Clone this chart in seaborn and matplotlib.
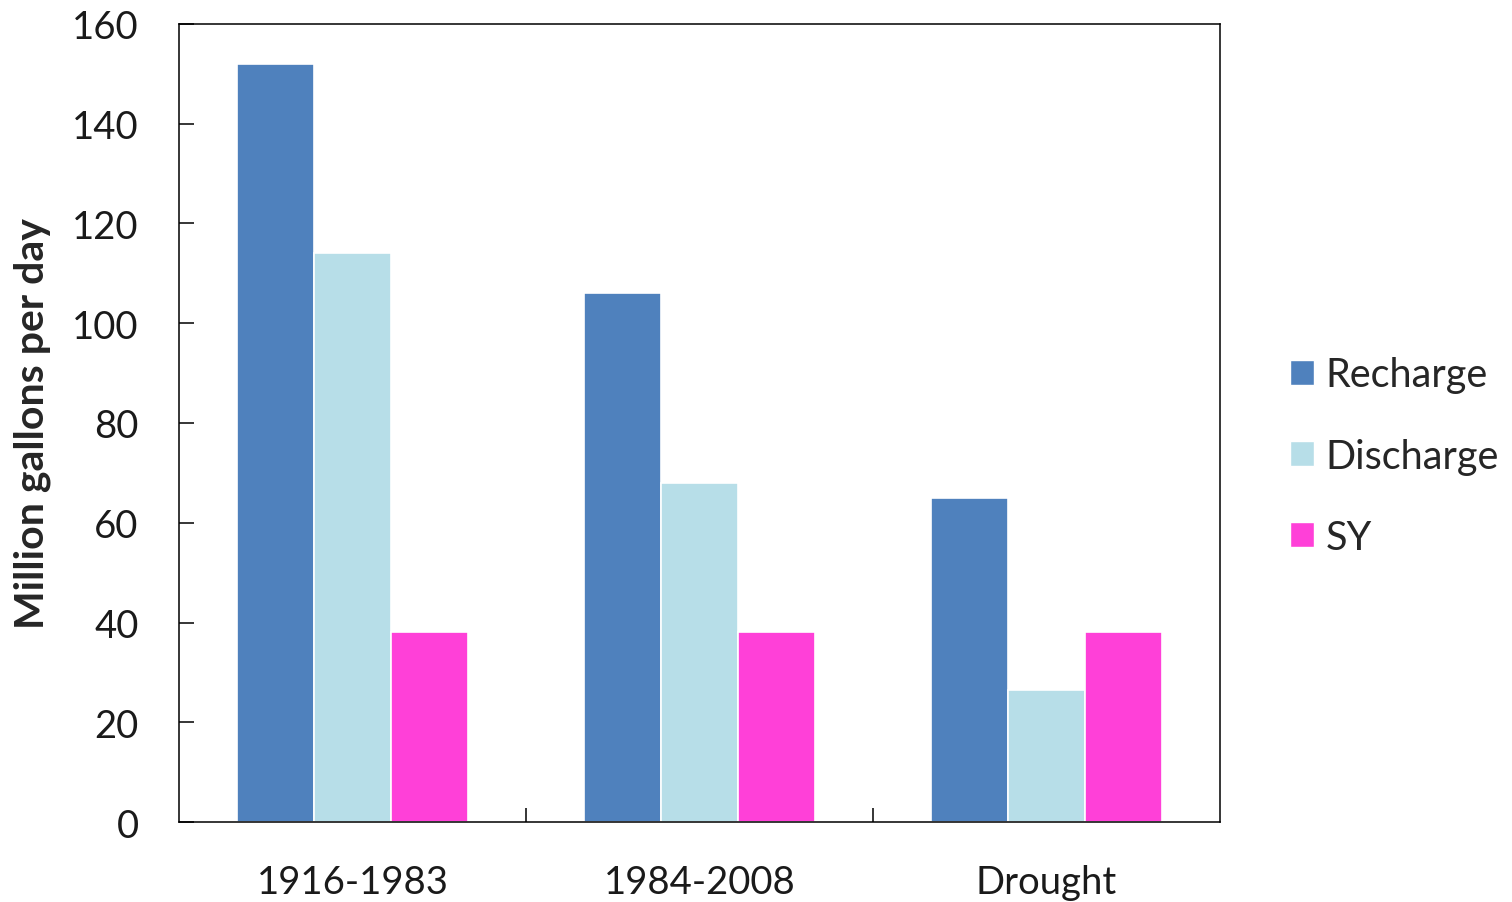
import matplotlib
matplotlib.use("Agg")
import matplotlib.pyplot as plt
import seaborn as sns
import pandas as pd
from matplotlib.patches import Patch
from matplotlib.ticker import FixedLocator

categories = ["1916-1983", "1984-2008", "Drought"]
series = ["Recharge", "Discharge", "SY"]
recharge = [152, 106, 65]
discharge = [114, 68, 26.5]
sy = [38, 38, 38]
colors = ["#4F81BD", "#B7DEE8", "#FF40D8"]
y_ticks = [0, 20, 40, 60, 80, 100, 120, 140, 160]

rows = []
for i, c in enumerate(categories):
    for s, vals in zip(series, [recharge, discharge, sy]):
        rows.append({"Period": c, "Series": s, "Value": vals[i]})
df = pd.DataFrame(rows)

sns.set_theme(style="white")
plt.rcParams["font.family"] = ["Lato", "DejaVu Sans"]

fig = plt.figure(figsize=(15.12, 9.03), dpi=100)
ax = fig.add_axes([179/1512, 1-823/903, (1220-179)/1512, (823-25)/903])

sns.barplot(data=df, x="Period", y="Value", hue="Series", order=categories,
            hue_order=series, palette=colors, width=0.667, saturation=1,
            edgecolor="white", linewidth=1.2, legend=False, ax=ax)

ax.set_xlim(-0.5, 2.5)
ax.set_ylim(0, 160)
ax.set_yticks(y_ticks)
ax.set_xlabel("")
ax.set_ylabel("Million gallons per day", fontsize=29.5, fontweight="bold", labelpad=15)

for sp in ax.spines.values():
    sp.set_visible(True)
    sp.set_color("black")
    sp.set_linewidth(1.1)

ax.tick_params(axis="y", direction="in", length=11, width=1.1, color="black",
               labelsize=27.5, pad=29, left=True)
ax.tick_params(axis="x", which="major", length=0, labelsize=27.5, pad=30)
ax.xaxis.set_minor_locator(FixedLocator([0.5, 1.5]))
ax.tick_params(axis="x", which="minor", direction="in", length=10, width=1.1,
               color="black", bottom=True)
for lab in ax.get_yticklabels() + ax.get_xticklabels():
    lab.set_color("#1a1a1a")

handles = [Patch(facecolor=c, edgecolor="white") for c in colors]
fig.legend(handles, series, loc="center left", bbox_to_anchor=(1290/1512, 1-457/903),
           frameon=False, fontsize=28.5, handlelength=0.6, handleheight=0.6,
           handletextpad=0.3, labelspacing=1.12, borderaxespad=0, borderpad=0)

fig.savefig("out.png", dpi=100)
